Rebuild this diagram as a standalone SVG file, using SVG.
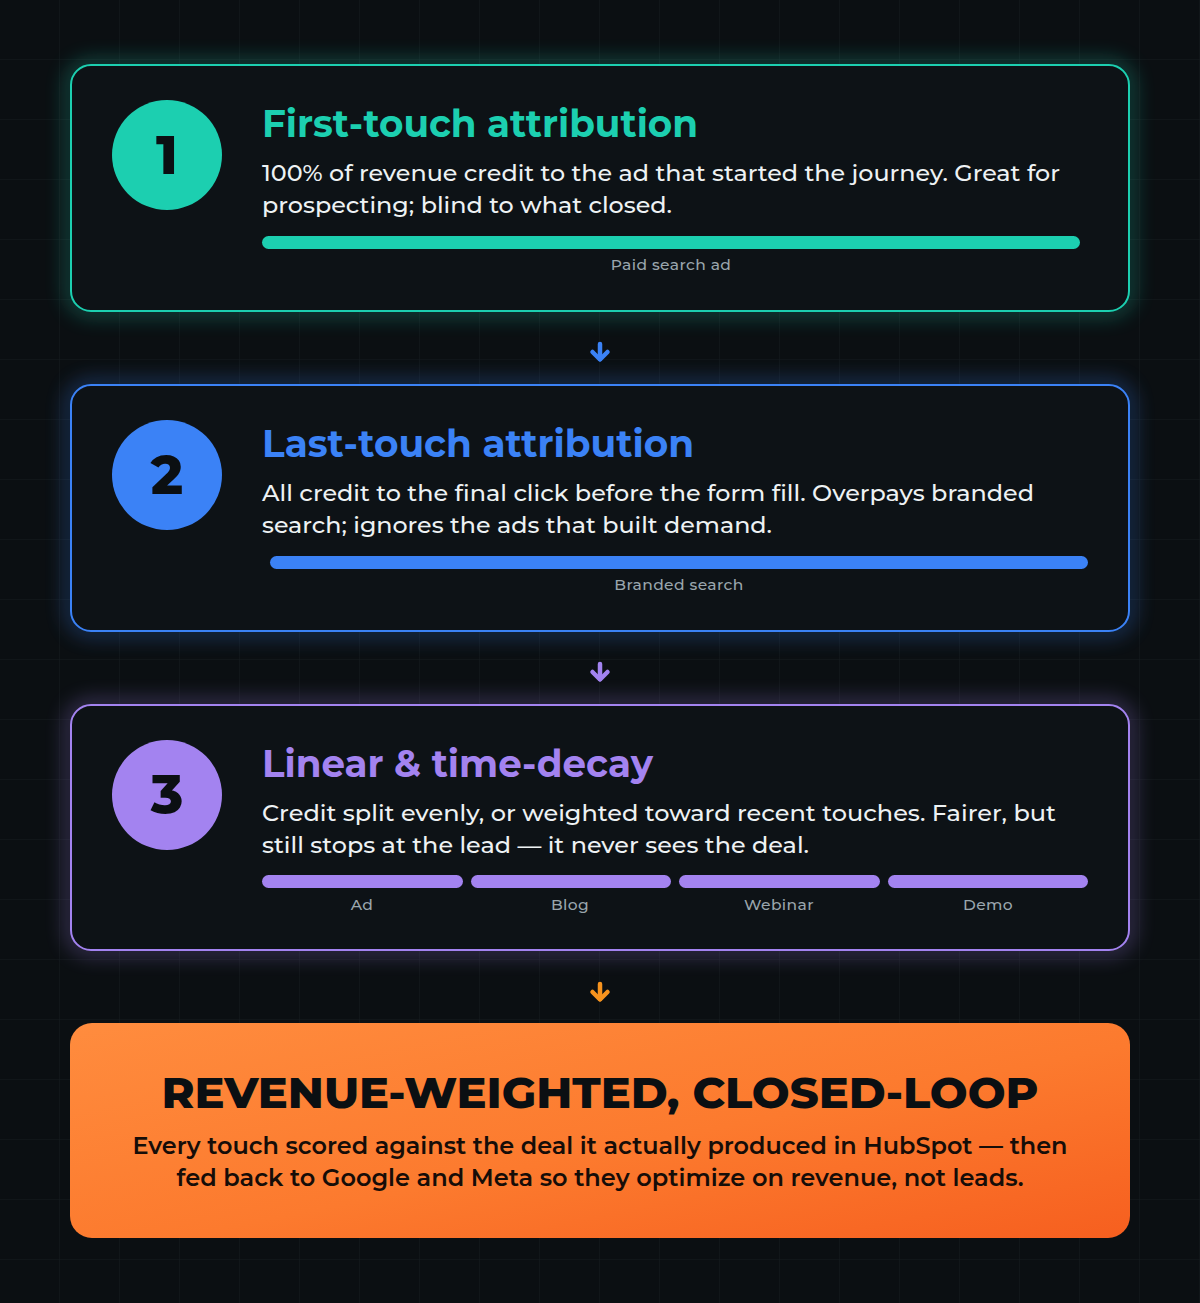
<svg xmlns="http://www.w3.org/2000/svg" width="1200" height="1303" viewBox="0 0 1200 1303">
<defs>
<pattern id="grid" width="60" height="60" patternUnits="userSpaceOnUse">
<path d="M60 0V60M0 60H60" fill="none" stroke="#161c20" stroke-width="1"/>
</pattern>
<filter id="glow" x="-10%" y="-30%" width="120%" height="160%">
<feGaussianBlur stdDeviation="10"/>
</filter>
<linearGradient id="og" x1="0" y1="0" x2="1" y2="1">
<stop offset="0" stop-color="#ff8c3e"/>
<stop offset="0.55" stop-color="#fc7a2e"/>
<stop offset="1" stop-color="#f65f1f"/>
</linearGradient>
<style>
.card{fill:#0d1216;stroke-width:2}
.title{font-family:"Montserrat","Lato","Open Sans",sans-serif;font-weight:700;font-size:38px}
.body{font-family:"Montserrat","Lato","Open Sans",sans-serif;font-weight:500;font-size:23px;fill:#eef2f4}
.lbl{font-family:"Montserrat","Lato","Open Sans",sans-serif;font-weight:500;font-size:15.5px;letter-spacing:0.4px;fill:#9aa6ad;text-anchor:middle}
.num{font-family:"Montserrat","Lato","Open Sans",sans-serif;font-weight:800;font-size:54px;fill:#0b0f12;text-anchor:middle}
.otitle{font-family:"Montserrat","Lato","Open Sans",sans-serif;font-weight:800;font-size:44px;fill:#0b0f12;text-anchor:middle}
.obody{font-family:"Montserrat","Lato","Open Sans",sans-serif;font-weight:600;font-size:23px;fill:#160d08;text-anchor:middle}
.arr{fill:none;stroke-width:4.5;stroke-linecap:round;stroke-linejoin:round}
</style>
</defs>
<rect width="1200" height="1303" fill="#0b0f12"/>
<rect width="1200" height="1303" fill="url(#grid)"/>

<g id="connectors">
<g class="arr" stroke="#3b82f6"><path d="M600 344V359"/><path d="M592.5 352L600 359.5L607.5 352"/></g>
<g class="arr" stroke="#a383f0"><path d="M600 664V679"/><path d="M592.5 672L600 679.5L607.5 672"/></g>
<g class="arr" stroke="#f7931e"><path d="M600 984V999"/><path d="M592.5 992L600 999.5L607.5 992"/></g>
</g>

<g id="node1">
<rect x="71" y="65" width="1058" height="246" rx="20" fill="none" stroke="#1ccfb0" stroke-width="8" opacity="0.5" filter="url(#glow)"/>
<rect class="card" x="71" y="65" width="1058" height="246" rx="20" stroke="#1ccfb0"/>
<circle cx="167" cy="155" r="55" fill="#1ccfb0"/>
<text class="num" x="167" y="174">1</text>
<text class="title" x="262" y="137" fill="#1ccfb0" textLength="436" lengthAdjust="spacingAndGlyphs">First-touch attribution</text>
<text class="body" x="262" y="181" textLength="798" lengthAdjust="spacingAndGlyphs">100% of revenue credit to the ad that started the journey. Great for</text>
<text class="body" x="262" y="213" textLength="410" lengthAdjust="spacingAndGlyphs">prospecting; blind to what closed.</text>
<rect x="262" y="236" width="818" height="13" rx="6.5" fill="#1ccfb0"/>
<text class="lbl" x="671" y="270">Paid search ad</text>
</g>

<g id="node2">
<rect x="71" y="385" width="1058" height="246" rx="20" fill="none" stroke="#3b82f6" stroke-width="8" opacity="0.5" filter="url(#glow)"/>
<rect class="card" x="71" y="385" width="1058" height="246" rx="20" stroke="#3b82f6"/>
<circle cx="167" cy="475" r="55" fill="#3b82f6"/>
<text class="num" x="167" y="494">2</text>
<text class="title" x="262" y="457" fill="#3b82f6" textLength="432" lengthAdjust="spacingAndGlyphs">Last-touch attribution</text>
<text class="body" x="262" y="501" textLength="772" lengthAdjust="spacingAndGlyphs">All credit to the final click before the form fill. Overpays branded</text>
<text class="body" x="262" y="533" textLength="510" lengthAdjust="spacingAndGlyphs">search; ignores the ads that built demand.</text>
<rect x="270" y="556" width="818" height="13" rx="6.5" fill="#3b82f6"/>
<text class="lbl" x="679" y="590">Branded search</text>
</g>

<g id="node3">
<rect x="71" y="705" width="1058" height="245" rx="20" fill="none" stroke="#a383f0" stroke-width="8" opacity="0.5" filter="url(#glow)"/>
<rect class="card" x="71" y="705" width="1058" height="245" rx="20" stroke="#a383f0"/>
<circle cx="167" cy="795" r="55" fill="#a383f0"/>
<text class="num" x="167" y="814">3</text>
<text class="title" x="262" y="777" fill="#a383f0" textLength="391" lengthAdjust="spacingAndGlyphs">Linear &amp; time-decay</text>
<text class="body" x="262" y="821" textLength="794" lengthAdjust="spacingAndGlyphs">Credit split evenly, or weighted toward recent touches. Fairer, but</text>
<text class="body" x="262" y="853" textLength="547" lengthAdjust="spacingAndGlyphs">still stops at the lead — it never sees the deal.</text>
<rect x="262" y="875" width="201" height="13" rx="6.5" fill="#a383f0"/>
<rect x="471" y="875" width="200" height="13" rx="6.5" fill="#a383f0"/>
<rect x="679" y="875" width="201" height="13" rx="6.5" fill="#a383f0"/>
<rect x="888" y="875" width="200" height="13" rx="6.5" fill="#a383f0"/>
<text class="lbl" x="362" y="910">Ad</text>
<text class="lbl" x="570" y="910">Blog</text>
<text class="lbl" x="779" y="910">Webinar</text>
<text class="lbl" x="988" y="910">Demo</text>
</g>

<g id="node4">
<rect x="70" y="1023" width="1060" height="215" rx="22" fill="url(#og)"/>
<text class="otitle" x="600" y="1108" textLength="877" lengthAdjust="spacingAndGlyphs">REVENUE-WEIGHTED, CLOSED-LOOP</text>
<text class="obody" x="600" y="1154" textLength="935" lengthAdjust="spacingAndGlyphs">Every touch scored against the deal it actually produced in HubSpot — then</text>
<text class="obody" x="600" y="1186" textLength="847" lengthAdjust="spacingAndGlyphs">fed back to Google and Meta so they optimize on revenue, not leads.</text>
</g>
</svg>
